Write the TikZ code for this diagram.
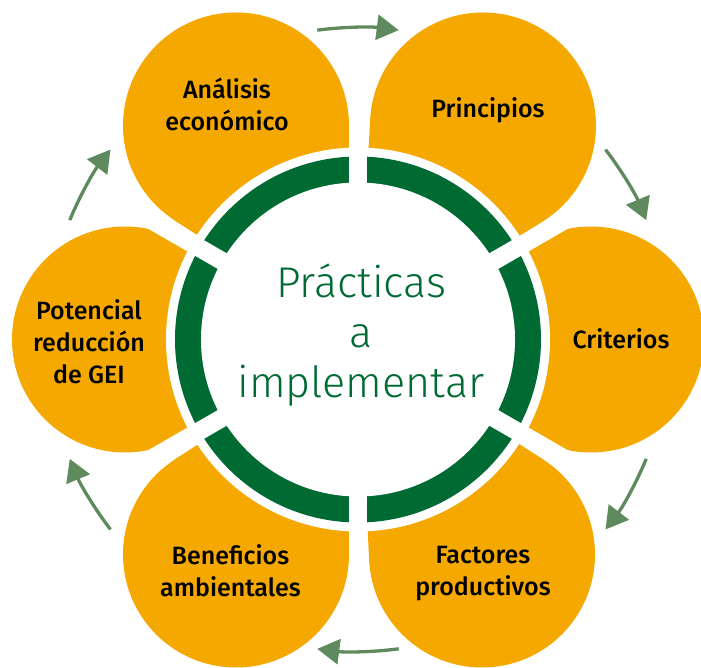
\documentclass[tikz,border=0pt]{standalone}
\usepackage{fontspec}
\setmainfont{Fira Sans}
\newfontfamily\centrefont{Fira Sans Light}
\newfontfamily\labelfont{Fira Sans Medium}
\usetikzlibrary{calc,arrows.meta}
\definecolor{petalorange}{HTML}{F5A800}
\definecolor{ringgreen}{HTML}{006A33}
\definecolor{arrowgreen}{HTML}{5E8A5E}
\tikzset{
 petal/.style={circle,fill=petalorange,minimum size=226pt,inner sep=0pt,outer sep=0pt},
 petaltip/.style={fill=petalorange},
 lbl/.style={align=center,font=\labelfont\fontsize{25}{32}\selectfont,text=black},
 gap/.style={white,line width=18pt},
 flow/.style={arrowgreen,line width=3.3pt,-{Triangle[length=22pt,width=25pt]}}
}
\begin{document}
\begin{tikzpicture}[x=1pt,y=1pt]
 \useasboundingbox (-358,-328.5) rectangle (343,339.5);
 \coordinate (O) at (0,0);
 % petals
 \node[petal] (analisis) at (-122,214) {};
 \node[petal] (principios) at (125,214) {};
 \node[petal] (criterios) at (233,0) {};
 \node[petal] (factores) at (124,-215) {};
 \node[petal] (beneficios) at (-122,-215) {};
 \node[petal] (potencial) at (-233,0) {};
 \fill[petaltip] (O) -- (tangent cs:node=analisis,point={(O)},solution=1) -- (tangent cs:node=analisis,point={(O)},solution=2) -- cycle;
 \fill[petaltip] (O) -- (tangent cs:node=principios,point={(O)},solution=1) -- (tangent cs:node=principios,point={(O)},solution=2) -- cycle;
 \fill[petaltip] (O) -- (tangent cs:node=criterios,point={(O)},solution=1) -- (tangent cs:node=criterios,point={(O)},solution=2) -- cycle;
 \fill[petaltip] (O) -- (tangent cs:node=factores,point={(O)},solution=1) -- (tangent cs:node=factores,point={(O)},solution=2) -- cycle;
 \fill[petaltip] (O) -- (tangent cs:node=beneficios,point={(O)},solution=1) -- (tangent cs:node=beneficios,point={(O)},solution=2) -- cycle;
 \fill[petaltip] (O) -- (tangent cs:node=potencial,point={(O)},solution=1) -- (tangent cs:node=potencial,point={(O)},solution=2) -- cycle;
 % ring
 \fill[white] (O) circle (192pt);
 \fill[ringgreen] (O) circle (183pt);
 \draw[gap] (O) -- (90:240pt);
 \draw[gap] (O) -- (30:240pt);
 \draw[gap] (O) -- (-30:240pt);
 \draw[gap] (O) -- (-90:240pt);
 \draw[gap] (O) -- (-150:240pt);
 \draw[gap] (O) -- (150:240pt);
 \fill[white] (O) circle (157pt);
 % texts
 \node[align=center,text=ringgreen,font=\centrefont\fontsize{43}{50}\selectfont] (centre) at (3,4) {Prácticas\\a\\implementar};
 \node[lbl] (l-analisis) at (-131,235.5) {Análisis\\económico};
 \node[lbl] (l-principios) at (130,229.5) {Principios};
 \node[lbl] (l-criterios) at (263,1) {Criterios};
 \node[lbl] (l-factores) at (125,-234.5) {Factores\\productivos};
 \node[lbl] (l-beneficios) at (-127.5,-231) {Beneficios\\ambientales};
 \node[lbl] (l-potencial) at (-269,-2) {Potencial\\reducción\\de GEI};
 % arrows
 \coordinate (f1) at (97.5:312pt);
 \coordinate (f2) at (37.5:312pt);
 \coordinate (f3) at (-22.5:312pt);
 \coordinate (f4) at (-82.5:312pt);
 \coordinate (f5) at (-142.5:312pt);
 \coordinate (f6) at (157.5:312pt);
 \draw[flow] (f1) arc[start angle=97.5,end angle=82.5,radius=312pt];
 \draw[flow] (f2) arc[start angle=37.5,end angle=22.5,radius=312pt];
 \draw[flow] (f3) arc[start angle=-22.5,end angle=-37.5,radius=312pt];
 \draw[flow] (f4) arc[start angle=-82.5,end angle=-97.5,radius=312pt];
 \draw[flow] (f5) arc[start angle=-142.5,end angle=-157.5,radius=312pt];
 \draw[flow] (f6) arc[start angle=157.5,end angle=142.5,radius=312pt];
\end{tikzpicture}
\end{document}
